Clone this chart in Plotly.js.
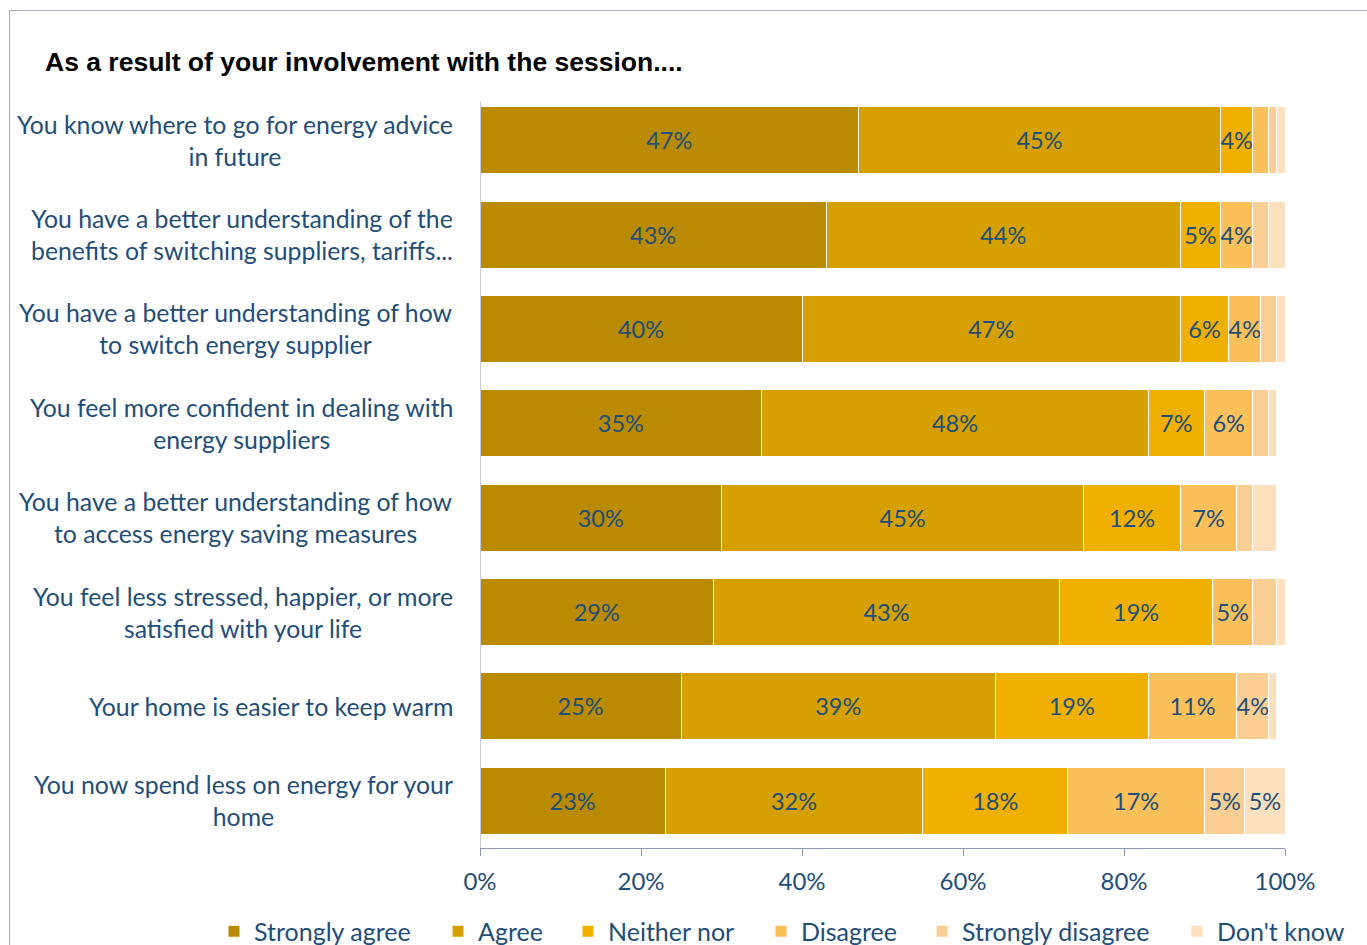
<!DOCTYPE html>
<html>
<head>
<meta charset="utf-8">
<script src="https://cdn.plot.ly/plotly-3.0.1.min.js"></script>
<style>
  html, body { margin: 0; padding: 0; background: #ffffff; }
  #chart { width: 1367px; height: 945px; position: absolute; left: 0; top: 0; }
  #frame { position: absolute; left: 9px; top: 10px; width: 1400px; height: 1000px;
           border: 1px solid #A3ACC2; pointer-events: none; box-sizing: border-box; }
</style>
</head>
<body>
<div id="chart"></div>
<div id="frame"></div>
<script>
// ---- data ----
const categories = [
  "You know where to go for energy advice<br>in future",
  "You have a better understanding of the<br>benefits of switching suppliers, tariffs...",
  "You have a better understanding of how<br>to switch energy supplier",
  "You feel more confident in dealing with<br>energy suppliers",
  "You have a better understanding of how<br>to access energy saving measures",
  "You feel less stressed, happier, or more<br>satisfied with your life",
  "Your home is easier to keep warm",
  "You now spend less on energy for your<br>home"
];
const seriesNames = ["Strongly agree", "Agree", "Neither nor", "Disagree", "Strongly disagree", "Don't know"];
const stronglyAgree    = [47, 43, 40, 35, 30, 29, 25, 23];
const agree            = [45, 44, 47, 48, 45, 43, 39, 32];
const neitherNor       = [4, 5, 6, 7, 12, 19, 19, 18];
const disagree         = [2, 4, 4, 6, 7, 5, 11, 17];
const stronglyDisagree = [1, 2, 2, 2, 2, 3, 4, 5];
const dontKnow         = [1, 2, 1, 1, 3, 1.4, 1, 5];
const xTickVals = [0, 20, 40, 60, 80, 100];
const xTickText = ["0%", "20%", "40%", "60%", "80%", "100%"];
const titleText = "As a result of your involvement with the session....";

// ---- styling ----
const colors = ["#BA8A00", "#D5A000", "#F0B000", "#FAC05A", "#FBCE94", "#FDE0BD"];
const textBlue = "#1F4E79";
const axisColor = "#8E98AE";
const FONT = "Lato, 'Open Sans', sans-serif";
const legendSquareLeft = [230, 454, 584, 777, 938, 1193];

const seriesValues = [stronglyAgree, agree, neitherNor, disagree, stronglyDisagree, dontKnow];
const legendIds = ["legend", "legend2", "legend3", "legend4", "legend5", "legend6"];

const traces = seriesValues.map((vals, i) => ({
  type: "bar",
  orientation: "h",
  name: seriesNames[i],
  legend: legendIds[i],
  y: categories,
  x: vals,
  text: vals.map(v => v >= 4 ? Math.round(v) + "%" : ""),
  textposition: "inside",
  insidetextanchor: "middle",
  textangle: 0,
  constraintext: "none",
  textfont: { family: FONT, size: 23.5, color: textBlue },
  marker: { color: colors[i], line: { color: "#ffffff", width: 1 } },
  hoverinfo: "skip"
}));

const plotLeft = 480, plotRight = 1285, plotTop = 93.4, plotBottom = 847.6;
const W = 1367, H = 945;
const pw = plotRight - plotLeft, ph = plotBottom - plotTop;
const px2x = p => (p - plotLeft) / pw;
const py2y = p => (plotBottom - p) / ph;

const annotations = categories.map(c => ({
  xref: "paper", yref: "y",
  x: px2x(455), y: c,
  xanchor: "right", yanchor: "middle",
  align: "center",
  text: c,
  showarrow: false,
  font: { family: FONT, size: 24.8, color: textBlue }
}));

const layout = {
  width: W, height: H,
  margin: { l: plotLeft, r: W - plotRight, t: plotTop, b: H - plotBottom, pad: 0, autoexpand: false },
  paper_bgcolor: "rgba(0,0,0,0)",
  plot_bgcolor: "rgba(0,0,0,0)",
  barmode: "stack",
  bargap: 0.29,
  showlegend: true,
  uniformtext: { mode: "show", minsize: 23.5 },
  title: {
    text: "<b>" + titleText + "</b>",
    xref: "container", yref: "container",
    x: 45 / W, xanchor: "left",
    y: 1 - 62 / H, yanchor: "middle",
    font: { family: "'Liberation Sans', Arial, sans-serif", size: 26.5, color: "#000000" }
  },
  xaxis: {
    range: [0, 100],
    tickvals: xTickVals,
    ticktext: xTickText,
    showgrid: false,
    zeroline: false,
    showline: true,
    linecolor: axisColor,
    linewidth: 1,
    ticks: "outside",
    ticklen: 7,
    tickcolor: axisColor,
    ticklabelstandoff: 5,
    tickfont: { family: FONT, size: 24, color: textBlue },
    fixedrange: true
  },
  yaxis: {
    autorange: "reversed",
    showticklabels: false,
    showgrid: false,
    zeroline: false,
    showline: false,
    ticks: "",
    fixedrange: true
  },
  shapes: [{
    type: "line", xref: "x", yref: "paper",
    x0: 0, x1: 0, y0: 0, y1: py2y(102),
    line: { color: axisColor, width: 1 }
  }],
  annotations: annotations
};

legendIds.forEach((id, i) => {
  layout[id] = {
    orientation: "h",
    x: px2x(legendSquareLeft[i] - 16), xanchor: "left",
    y: py2y(931), yanchor: "middle",
    font: { family: FONT, size: 25, color: textBlue },
    bgcolor: "rgba(0,0,0,0)",
    itemclick: false, itemdoubleclick: false
  };
});

Plotly.newPlot("chart", traces, layout, { displayModeBar: false, staticPlot: true });
</script>
</body>
</html>
